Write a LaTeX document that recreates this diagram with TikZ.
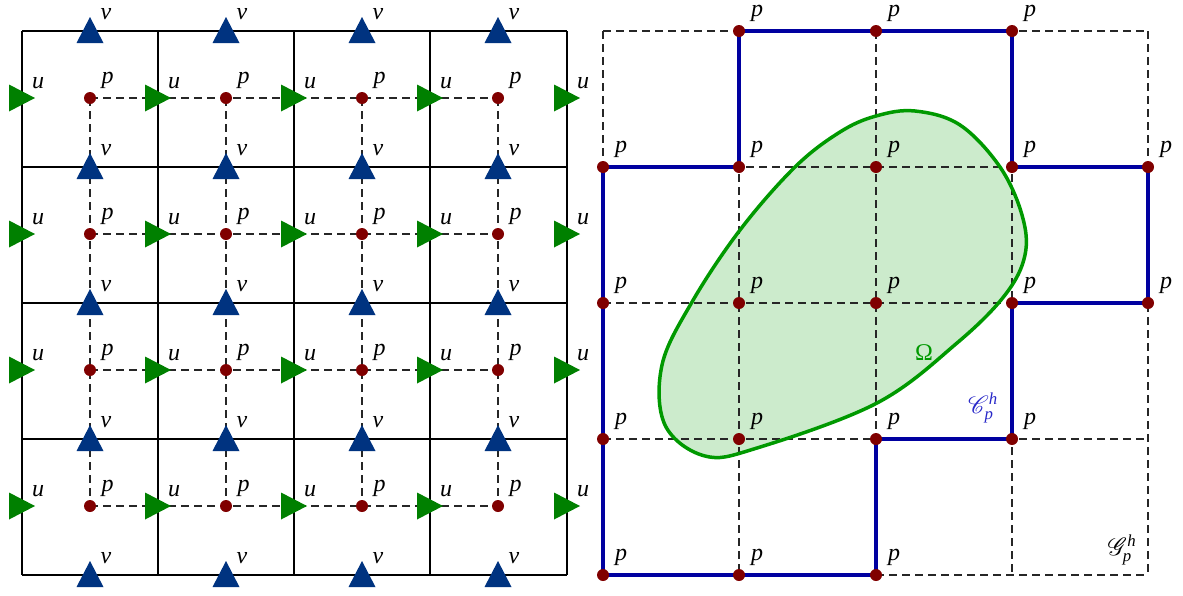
\documentclass[tikz,border=0pt]{standalone}
\usepackage{fontspec}
\setmainfont{Liberation Serif}
\usepackage{amsmath}
\usepackage{mathrsfs}
\definecolor{vblue}{RGB}{0,51,128}
\definecolor{ugreen}{RGB}{0,128,0}
\definecolor{dotred}{RGB}{128,0,0}
\definecolor{pathblue}{RGB}{0,0,160}
\definecolor{omgreen}{RGB}{0,153,0}
\definecolor{omfill}{RGB}{204,235,204}
\definecolor{clabel}{RGB}{40,40,200}
\tikzset{
  solidline/.style={line width=1.5pt, black},
  dashline/.style={line width=1.2pt, black!85, dash pattern=on 8pt off 5pt},
  lab/.style={font=\fontsize{24}{28}\selectfont\itshape, inner sep=0pt},
  cellpath/.style={line width=4pt, pathblue, line join=miter},
}
\def\omegapts{(740,230) (795,167) (840,132) (876,116) (915,111) (960,125)
 (1000,167) (1022,215) (1025,255) (1005,295) (957,343) (877,403) (757,448)
 (705,456) (665,425) (662,365) (692,302)}
\begin{document}
\begin{tikzpicture}[x=1pt,y=-1pt]
\useasboundingbox (0,0) rectangle (1183,595);
% ---------- left: staggered grid ----------
\foreach \x in {22,158,294,430,567}{
  \draw[solidline] (\x,31) -- (\x,575);
}
\foreach \y in {31,167,303,439,575}{
  \draw[solidline] (22,\y) -- (567,\y);
}
\foreach \x in {90,226,362,498}{
  \draw[dashline] (\x,98) -- (\x,506);
}
\foreach \y in {98,234,370,506}{
  \draw[dashline] (90,\y) -- (498,\y);
}
% u triangles
\foreach \x in {22,158,294,430,567}{
  \foreach \y in {98,234,370,506}{
    \fill[ugreen] ({\x-13},{\y-13.5}) -- ({\x+13},\y) -- ({\x-13},{\y+13.5}) -- cycle;
    \node[lab] (u-\x-\y) at ({\x+16},{\y-15}) {u};
  }
}
% v triangles
\foreach \x in {90,226,362,498}{
  \foreach \y in {31,167,303,439,575}{
    \fill[vblue] (\x,{\y-14}) -- ({\x+13.5},{\y+12}) -- ({\x-13.5},{\y+12}) -- cycle;
    \node[lab] (v-\x-\y) at ({\x+16},{\y-17}) {v};
  }
}
% p dots
\foreach \x in {90,226,362,498}{
  \foreach \y in {98,234,370,506}{
    \fill[dotred] (\x,\y) circle (6pt);
    \node[lab] (pl-\x-\y) at ({\x+17.5},{\y-17.5}) {p};
  }
}
% ---------- right: cut cell grid ----------
\foreach \x [count=\i from 0] in {603,739,876,1012,1148}{
  \foreach \y [count=\j from 0] in {31,167,303,439,575}{
    \coordinate (g-\i-\j) at (\x,\y);
  }
}
\fill[omfill] plot[smooth cycle, tension=0.6] coordinates {\omegapts};
\foreach \i in {0,...,4}{
  \draw[dashline] (g-\i-0) -- (g-\i-4);
  \draw[dashline] (g-0-\i) -- (g-4-\i);
}
\draw[line width=3.5pt, omgreen] plot[smooth cycle, tension=0.6] coordinates {\omegapts};
\draw[cellpath] (g-1-0) -- (g-3-0) -- (g-3-1) -- (g-4-1) -- (g-4-2) -- (g-3-2)
  -- (g-3-3) -- (g-2-3) -- (g-2-4) -- (g-0-4) -- (g-0-1) -- (g-1-1) -- cycle;
\foreach \i/\j in {1/0,2/0,3/0,0/1,1/1,2/1,3/1,4/1,0/2,1/2,2/2,3/2,4/2,0/3,1/3,2/3,3/3,0/4,1/4,2/4}{
  \fill[dotred] (g-\i-\j) circle (6pt);
  \node[lab] (pr-\i-\j) at ([xshift=18pt,yshift=17.5pt]g-\i-\j) {p};
}
\node[font=\fontsize{24}{28}\selectfont, text=omgreen, inner sep=0pt] (om) at (924,353) {Ω};
\node[font=\fontsize{24}{28}\selectfont, text=clabel, inner sep=0pt] (cp) at (983,408) {$\mathscr{C}_{\textit{p}}^{\textit{h}}$};
\node[font=\fontsize{24}{28}\selectfont, inner sep=0pt] (gp) at (1122,550) {$\mathscr{G}_{\textit{p}}^{\textit{h}}$};
\end{tikzpicture}
\end{document}
